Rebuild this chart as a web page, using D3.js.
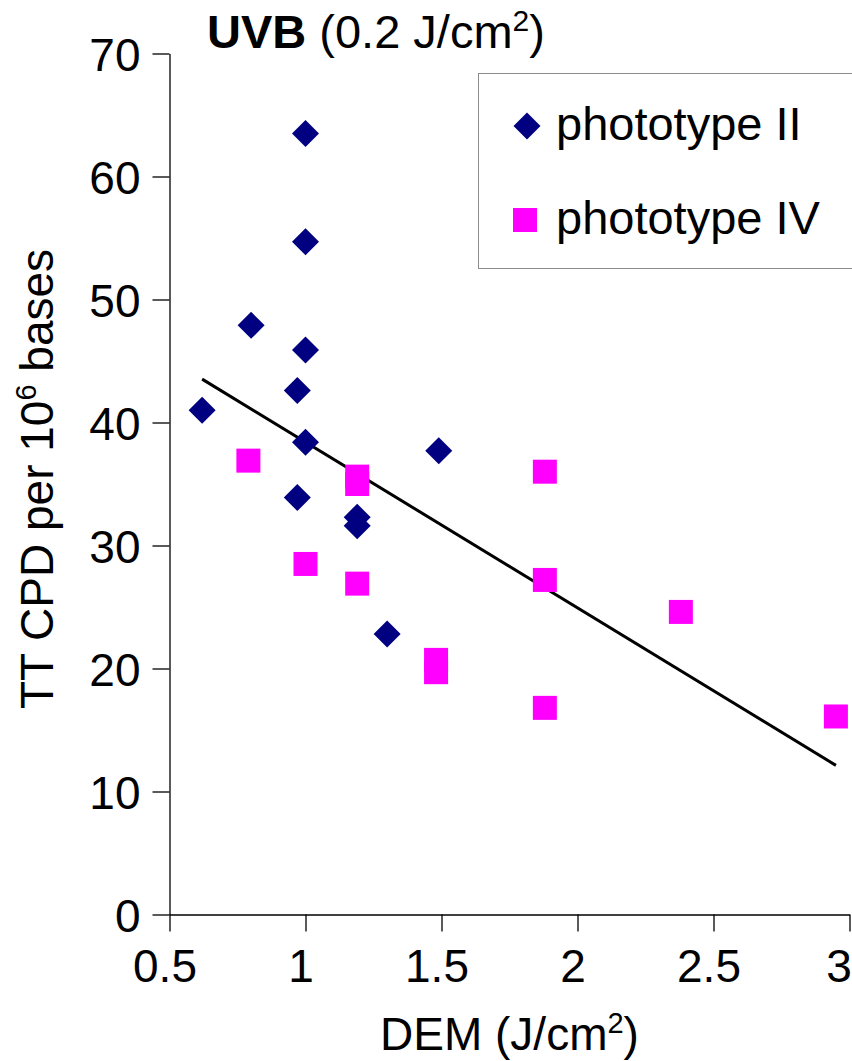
<!DOCTYPE html>
<html>
<head>
<meta charset="utf-8">
<script src="https://cdn.jsdelivr.net/npm/d3@7"></script>
<style>
  html, body { margin: 0; padding: 0; background: #fff; }
  svg { display: block; font-family: "Liberation Sans", Arial, sans-serif; }
</style>
</head>
<body>
<div id="container"></div>
<script>
// phototype II (navy diamonds)
const type2X = [1.0, 1.0, 0.8, 1.0, 0.97, 0.62, 1.0, 1.49, 0.97, 1.19, 1.19, 1.3];
const type2Y = [63.5, 54.7, 47.9, 45.9, 42.6, 41.0, 38.4, 37.7, 33.9, 32.3, 31.6, 22.8];
// phototype IV (magenta squares)
const type4X = [0.79, 1.19, 1.19, 1.0, 1.19, 1.48, 1.48, 1.88, 1.88, 1.88, 2.38, 2.95];
const type4Y = [36.9, 35.6, 35.0, 28.5, 26.9, 20.7, 19.7, 36.0, 27.2, 16.8, 24.6, 16.1];

const xTicks = [0.5, 1, 1.5, 2, 2.5, 3];
const yTicks = [0, 10, 20, 30, 40, 50, 60, 70];
const seriesNames = ["phototype II", "phototype IV"];

const width = 852, height = 1061;
const plotLeft = 169.5, plotRight = 849.5, plotTop = 53.5, plotBottom = 914.5;

const x = d3.scaleLinear().domain([0.5, 3]).range([plotLeft, plotRight]);
const y = d3.scaleLinear().domain([0, 70]).range([plotBottom, plotTop]);

const svg = d3.create("svg")
    .attr("width", width)
    .attr("height", height);

// axes
const yAxis = svg.append("g")
    .attr("transform", `translate(${plotLeft},0)`)
    .call(d3.axisLeft(y).tickValues(yTicks).tickFormat(d => String(d))
        .tickSize(17).tickPadding(12).tickSizeOuter(0));
yAxis.select(".domain").attr("stroke", "#000").attr("stroke-width", 1.3);
yAxis.selectAll(".tick line").attr("stroke", "#000").attr("stroke-width", 1.3);
yAxis.selectAll(".tick text")
    .attr("font-size", 46)
    .attr("font-family", "Liberation Sans, Arial, sans-serif")
    .attr("fill", "#000")
    .attr("dy", "0.36em");

const xAxis = svg.append("g")
    .attr("transform", `translate(0,${plotBottom})`)
    .call(d3.axisBottom(x).tickValues(xTicks).tickFormat(d => String(d))
        .tickSize(17).tickPadding(17).tickSizeOuter(0));
xAxis.select(".domain").attr("stroke", "#000").attr("stroke-width", 1.3);
xAxis.selectAll(".tick line").attr("stroke", "#000").attr("stroke-width", 1.3);
xAxis.selectAll(".tick text")
    .attr("font-size", 46)
    .attr("font-family", "Liberation Sans, Arial, sans-serif")
    .attr("fill", "#000")
    .attr("dy", "0.72em")
    .attr("x", d => d === 3 ? -11 : -5);

// trend line (least squares over all points)
const allX = type2X.concat(type4X), allY = type2Y.concat(type4Y);
const mx = d3.mean(allX), my = d3.mean(allY);
const slope = d3.sum(allX, (v, i) => (v - mx) * (allY[i] - my)) / d3.sum(allX, v => (v - mx) ** 2);
const fit = v => my + slope * (v - mx);
const xMin = d3.min(allX), xMax = d3.max(allX);

svg.append("line")
    .attr("x1", x(xMin)).attr("y1", y(fit(xMin)))
    .attr("x2", x(xMax)).attr("y2", y(fit(xMax)))
    .attr("stroke", "#000")
    .attr("stroke-width", 3);

// markers
const diamond = d3.symbol().type(d3.symbolSquare).size(27 * 27 / 2);
svg.append("g")
    .selectAll("path")
    .data(type2X.map((v, i) => [v, type2Y[i]]))
    .join("path")
    .attr("d", diamond)
    .attr("transform", d => `translate(${x(d[0])},${y(d[1])}) rotate(45)`)
    .attr("fill", "#000080");

svg.append("g")
    .selectAll("rect")
    .data(type4X.map((v, i) => [v, type4Y[i]]))
    .join("rect")
    .attr("x", d => x(d[0]) - 12)
    .attr("y", d => y(d[1]) - 12)
    .attr("width", 24)
    .attr("height", 24)
    .attr("fill", "#ff00ff");

// title
const title = svg.append("text")
    .attr("x", 207)
    .attr("y", 48)
    .attr("font-size", 47)
    .attr("fill", "#000");
title.append("tspan").attr("font-weight", "bold").text("UVB");
title.append("tspan").text(" (0.2 J/cm");
title.append("tspan").attr("font-size", 30).attr("dy", -17).text("2");
title.append("tspan").attr("dy", 17).text(")");

// x axis title
const xt = svg.append("text")
    .attr("x", (plotLeft + plotRight) / 2)
    .attr("y", 1050)
    .attr("text-anchor", "middle")
    .attr("font-size", 46)
    .attr("fill", "#000");
xt.append("tspan").text("DEM (J/cm");
xt.append("tspan").attr("font-size", 29).attr("dy", -17).text("2");
xt.append("tspan").attr("dy", 17).text(")");

// y axis title
const yt = svg.append("text")
    .attr("transform", `translate(53,${(plotTop + plotBottom) / 2 - 5}) rotate(-90)`)
    .attr("text-anchor", "middle")
    .attr("font-size", 46)
    .attr("fill", "#000");
yt.append("tspan").text("TT CPD per 10");
yt.append("tspan").attr("font-size", 29).attr("dy", -17).text("6");
yt.append("tspan").attr("dy", 17).text(" bases");

// legend
const legend = svg.append("g");
legend.append("rect")
    .attr("x", 478.5).attr("y", 73.5)
    .attr("width", 390).attr("height", 195)
    .attr("fill", "#fff")
    .attr("stroke", "#8c8c8c")
    .attr("stroke-width", 1);

const legendRows = [126, 220];
legendRows.forEach((ly, i) => {
    if (i === 0) {
        legend.append("path")
            .attr("d", diamond)
            .attr("transform", `translate(527,${ly}) rotate(45)`)
            .attr("fill", "#000080");
    } else {
        legend.append("rect")
            .attr("x", 513).attr("y", ly - 12)
            .attr("width", 24).attr("height", 24)
            .attr("fill", "#ff00ff");
    }
    legend.append("text")
        .attr("x", 556)
        .attr("y", ly + 14)
        .attr("font-size", 47)
        .attr("fill", "#000")
        .text(seriesNames[i]);
});

document.getElementById("container").append(svg.node());
</script>
</body>
</html>
